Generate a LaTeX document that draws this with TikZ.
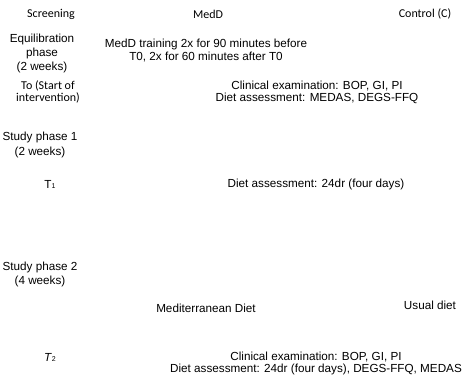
\documentclass[tikz,border=0pt]{standalone}
\usepackage{fontspec}
\setmainfont{Liberation Sans}
\newfontfamily\calfont{Carlito}
\begin{document}
\begin{tikzpicture}[x=1pt,y=1pt,
  txt/.style={inner sep=0pt, align=center, text=black, font=\fontsize{11.7}{13}\selectfont},
  cal/.style={inner sep=0pt, align=center, text=black, font=\calfont\fontsize{12}{12.5}\selectfont},
  ls/.style={font=\fontsize{11.7}{#1}\selectfont}]
\useasboundingbox[fill=white] (0,0) rectangle (465,-382);
% header
\node[cal] (screen) at (51,-14) {Screening};
\node[cal] (medd) at (208,-14) {MedD};
\node[cal] (ctrl) at (425,-14) {Control (C)};
% equilibration
\node[txt, ls=14] (equi) at (42,-53) {Equilibration\\phase\\(2 weeks)};
\node[txt, ls=13] (train) at (206,-50.5) {MedD training 2x for 90 minutes before\\T0, 2x for 60 minutes after T0};
% T0
\node[cal, font=\calfont\fontsize{12}{12}\selectfont] (tzero) at (48,-92) {To (Start of\\intervention)};
\node[txt, ls=12] (clin0) at (317,-92) {Clinical examination: BOP, GI, PI\\Diet assessment: MEDAS, DEGS-FFQ};
% study phase 1
\node[txt, ls=15] (sp1) at (40,-144.5) {Study phase 1\\(2 weeks)};
\node[txt] (t1) at (50,-184) {T{\scriptsize 1}};
\node[txt] (diet1) at (316,-184) {Diet assessment: 24dr (four days)};
% study phase 2
\node[txt, ls=14] (sp2) at (40,-274) {Study phase 2\\(4 weeks)};
\node[txt] (med) at (206,-308) {Mediterranean Diet};
\node[txt] (usual) at (430,-305) {Usual diet};
% T2
\node[txt] (t2) at (50,-357) {\textit{T}{\scriptsize 2}};
\node[txt, ls=12] (clin2) at (316,-363) {Clinical examination: BOP, GI, PI\\Diet assessment: 24dr (four days), DEGS-FFQ, MEDAS};
\end{tikzpicture}
\end{document}
